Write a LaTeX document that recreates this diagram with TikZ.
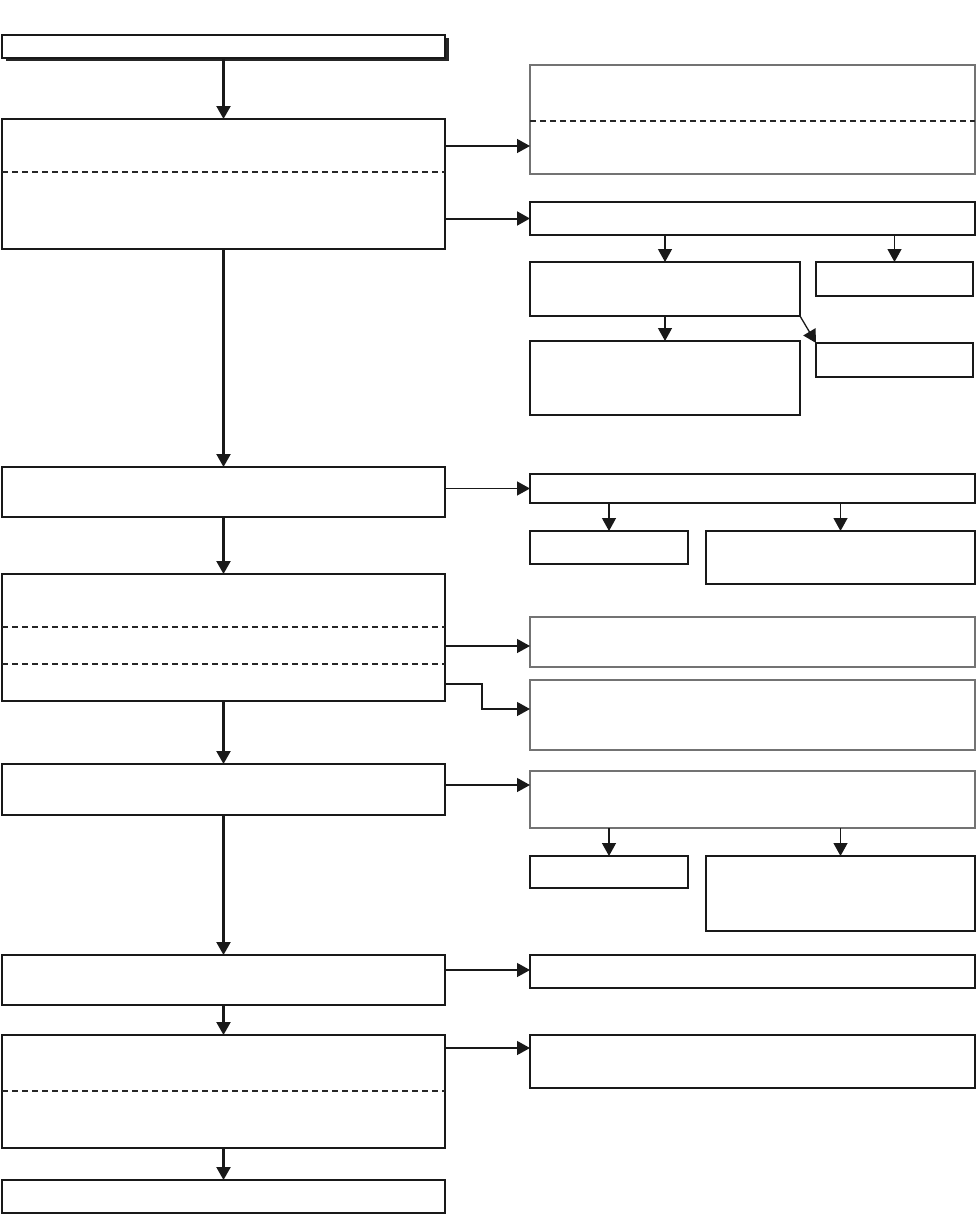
\documentclass[tikz,border=0pt]{standalone}
\usepackage{tikz}
\usetikzlibrary{arrows.meta, positioning, shadows}

\begin{document}
\begin{tikzpicture}[
    x=1pt, y=-1pt,
    box/.style={rectangle, draw=black!90, line width=1.6pt, fill=white, anchor=north west,
                inner sep=0pt, outer sep=0pt},
    greybox/.style={box, draw=black!55},
    divider/.style={dashed, dash pattern=on 6pt off 4pt, line width=1.1pt, black!85},
    arrow/.style={-{Triangle[length=13pt, width=14pt]}, line width=1.3pt, black!90},
    mainarrow/.style={arrow, line width=2.2pt}
]
    \useasboundingbox (0,0) rectangle (978,1215);

    % left column
    \node[box, minimum width=443pt, minimum height=23pt,
          drop shadow={shadow xshift=3.5pt, shadow yshift=-3.5pt, opacity=1, fill=black!85}] (l0) at (2,35) {};
    \node[box, minimum width=443pt, minimum height=130pt] (l1) at (2,119) {};
    \node[box, minimum width=443pt, minimum height=50pt] (l2) at (2,467) {};
    \node[box, minimum width=443pt, minimum height=127pt] (l3) at (2,574) {};
    \node[box, minimum width=443pt, minimum height=51pt] (l4) at (2,764) {};
    \node[box, minimum width=443pt, minimum height=50pt] (l5) at (2,955) {};
    \node[box, minimum width=443pt, minimum height=113pt, line width=2pt] (l6) at (2,1035) {};
    \node[box, minimum width=443pt, minimum height=33pt] (l7) at (2,1180) {};

    \draw[divider] (l1.north west |- 0,172) -- (l1.north east |- 0,172);
    \draw[divider] (l3.north west |- 0,627) -- (l3.north east |- 0,627);
    \draw[divider] (l3.north west |- 0,664) -- (l3.north east |- 0,664);
    \draw[divider, line width=1.8pt] (l6.north west |- 0,1091) -- (l6.north east |- 0,1091);

    % right column
    \node[greybox, minimum width=445pt, minimum height=109pt] (r1) at (530,65) {};
    \node[box, minimum width=445pt, minimum height=33pt] (r2) at (530,202) {};
    \node[box, minimum width=270pt, minimum height=54pt] (r2a) at (530,262) {};
    \node[box, minimum width=157pt, minimum height=34pt] (r2b) at (816,262) {};
    \node[box, minimum width=270pt, minimum height=74pt] (r2c) at (530,341) {};
    \node[box, minimum width=157pt, minimum height=34pt] (r2d) at (816,343) {};
    \node[box, minimum width=445pt, minimum height=29pt] (r3) at (530,474) {};
    \node[box, minimum width=158pt, minimum height=33pt] (r3a) at (530,531) {};
    \node[box, minimum width=269pt, minimum height=53pt] (r3b) at (706,531) {};
    \node[greybox, minimum width=445pt, minimum height=50pt] (r4) at (530,617) {};
    \node[greybox, minimum width=445pt, minimum height=70pt] (r5) at (530,680) {};
    \node[greybox, minimum width=445pt, minimum height=57pt] (r6) at (530,771) {};
    \node[box, minimum width=158pt, minimum height=32pt] (r6a) at (530,856) {};
    \node[box, minimum width=269pt, minimum height=75pt] (r6b) at (706,856) {};
    \node[box, minimum width=445pt, minimum height=33pt] (r7) at (530,955) {};
    \node[box, minimum width=445pt, minimum height=53pt] (r8) at (530,1035) {};

    \draw[divider] (r1.north west |- 0,121) -- (r1.north east |- 0,121);

    % main flow
    \draw[mainarrow] (l0) -- (l1);
    \draw[mainarrow] (l1) -- (l2);
    \draw[mainarrow] (l2) -- (l3);
    \draw[mainarrow] (l3) -- (l4);
    \draw[mainarrow] (l4) -- (l5);
    \draw[mainarrow] (l5) -- (l6);
    \draw[mainarrow] (l6) -- (l7);

    % side branches
    \draw[arrow] (l1.east |- 0,146) -- (r1.west |- 0,146);
    \draw[arrow, line width=2pt] (l1.east |- r2.west) -- (r2.west);
    \draw[arrow] (r2a |- r2.south) -- (r2a.north);
    \draw[arrow] (r2b |- r2.south) -- (r2b.north);
    \draw[arrow] (r2a.south) -- (r2c.north);
    \draw[arrow] (r2a.south east) -- (r2d.north west);
    \draw[arrow] (l2.east |- r3.west) -- (r3.west);
    \draw[arrow] (r3a |- r3.south) -- (r3a.north);
    \draw[arrow] (r3b |- r3.south) -- (r3b.north);
    \draw[arrow] (l3.east |- 0,646) -- (r4.west |- 0,646);
    \draw[arrow] (l3.east |- 0,684) -- (482,684) |- (r5.west |- 0,709);
    \draw[arrow] (l4.east |- 0,785) -- (r6.west |- 0,785);
    \draw[arrow] (r6a |- r6.south) -- (r6a.north);
    \draw[arrow] (r6b |- r6.south) -- (r6b.north);
    \draw[arrow] (l5.east |- 0,970) -- (r7.west |- 0,970);
    \draw[arrow] (l6.east |- 0,1048) -- (r8.west |- 0,1048);
\end{tikzpicture}
\end{document}
